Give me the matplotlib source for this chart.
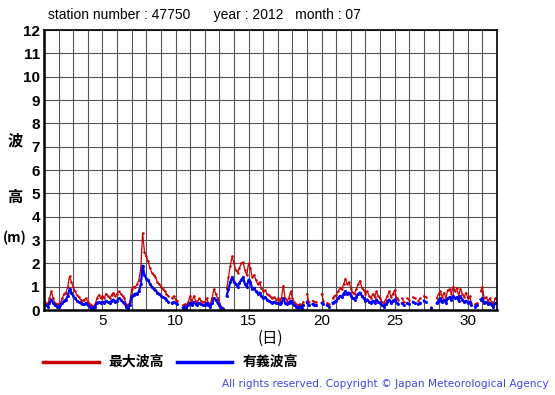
import numpy as np
import matplotlib
matplotlib.use('Agg')
import matplotlib.pyplot as plt

nan = np.nan

# 3-hourly values, 8 per day, days 1..31
hs = [
    0.25, 0.2, 0.15, 0.3, 0.45, 0.3, 0.2, 0.15,
    0.15, 0.2, 0.3, 0.4, 0.45, 0.6, 0.9, 0.75,
    0.6, 0.5, 0.4, 0.35, 0.3, 0.25, 0.25, 0.3,
    0.2, 0.15, 0.1, 0.1, 0.15, 0.3, 0.35, 0.3,
    0.35, 0.3, 0.4, 0.35, 0.3, 0.4, 0.45, 0.35,
    0.4, 0.5, 0.45, 0.35, 0.3, 0.15, 0.1, 0.2,
    0.6, 0.65, 0.7, 0.7, 0.8, 1.1, 1.9, 1.5,
    1.35, 1.3, 1.1, 1.0, 0.9, 0.85, 0.75, 0.7,
    0.6, 0.55, 0.5, 0.45, 0.35, nan, 0.3, 0.35,
    0.3, 0.25, nan, nan, 0.1, 0.15, 0.1, 0.2,
    0.3, 0.2, 0.35, 0.25, 0.2, 0.3, 0.25, 0.2,
    0.2, 0.3, 0.2, 0.15, 0.3, 0.5, 0.45, 0.3,
    0.2, 0.1, 0.05, nan, 0.6, 0.9, 1.2, 1.4,
    1.2, 1.1, 1.0, 1.15, 1.3, 1.4, 1.1, 1.0,
    1.3, 1.2, 0.9, 0.95, 0.8, 0.7, 0.75, 0.6,
    0.5, 0.55, 0.45, 0.4, 0.35, 0.3, 0.35, 0.3,
    0.3, 0.25, 0.3, 0.5, 0.3, 0.25, 0.3, 0.4,
    0.3, 0.2, 0.15, 0.1, 0.15, 0.1, 0.2, nan,
    0.35, 0.2, nan, 0.25, 0.2, 0.2, nan, nan,
    0.3, 0.25, nan, 0.2, 0.15, nan, 0.3, 0.35,
    0.4, 0.5, 0.6, 0.55, 0.7, 0.8, 0.7, 0.75,
    0.6, 0.5, 0.45, 0.55, 0.7, 0.75, 0.6, 0.5,
    0.4, 0.45, 0.35, 0.3, 0.4, 0.3, 0.45, 0.35,
    0.3, 0.2, 0.15, 0.25, 0.35, 0.45, 0.3, 0.4,
    0.45, 0.3, 0.25, nan, 0.3, 0.2, nan, 0.3,
    0.25, nan, 0.35, 0.3, nan, 0.25, 0.3, nan,
    0.4, 0.35, nan, nan, 0.1, nan, nan, 0.3,
    0.4, 0.5, 0.35, 0.45, 0.3, 0.5, 0.55, 0.45,
    0.6, 0.5, 0.55, 0.4, 0.6, 0.45, 0.35, 0.4,
    0.3, 0.35, 0.2, nan, 0.15, 0.2, nan, 0.45,
    0.5, 0.3, 0.35, 0.25, 0.3, 0.2, 0.15, 0.3,
]

hmax = [
    0.4, 0.3, 0.25, 0.5, 0.8, 0.5, 0.3, 0.25,
    0.25, 0.3, 0.5, 0.7, 0.75, 1.0, 1.45, 1.2,
    1.0, 0.8, 0.65, 0.55, 0.45, 0.4, 0.45, 0.5,
    0.35, 0.25, 0.2, 0.15, 0.25, 0.5, 0.65, 0.5,
    0.6, 0.5, 0.7, 0.6, 0.5, 0.65, 0.75, 0.6,
    0.7, 0.8, 0.7, 0.6, 0.5, 0.25, 0.2, 0.35,
    0.9, 1.0, 1.0, 1.1, 1.3, 1.8, 3.3, 2.5,
    2.3, 2.1, 1.8, 1.6, 1.5, 1.4, 1.2, 1.1,
    1.0, 0.9, 0.8, 0.7, 0.6, nan, 0.5, 0.6,
    0.45, 0.4, nan, nan, 0.2, 0.25, 0.2, 0.35,
    0.6, 0.35, 0.6, 0.4, 0.35, 0.5, 0.4, 0.35,
    0.35, 0.5, 0.3, 0.25, 0.5, 0.9, 0.7, 0.5,
    0.3, 0.15, 0.1, nan, 0.9, 1.4, 1.9, 2.3,
    2.0, 1.7, 1.6, 1.8, 2.0, 2.05, 1.7, 1.5,
    2.0, 1.8, 1.4, 1.5, 1.3, 1.1, 1.2, 0.95,
    0.8, 0.85, 0.7, 0.65, 0.55, 0.5, 0.55, 0.45,
    0.5, 0.4, 0.5, 1.05, 0.5, 0.4, 0.5, 0.8,
    0.5, 0.35, 0.25, 0.2, 0.25, 0.2, 0.35, nan,
    0.7, 0.35, nan, 0.4, 0.35, 0.35, nan, nan,
    0.7, 0.4, nan, 0.3, 0.25, nan, 0.5, 0.6,
    0.65, 0.8, 0.95, 0.9, 1.1, 1.35, 1.1, 1.2,
    0.9, 0.75, 0.7, 0.9, 1.1, 1.25, 0.95, 0.85,
    0.7, 0.8, 0.6, 0.5, 0.7, 0.55, 0.8, 0.6,
    0.5, 0.35, 0.3, 0.45, 0.6, 0.8, 0.55, 0.7,
    0.85, 0.5, 0.45, nan, 0.5, 0.35, nan, 0.5,
    0.45, nan, 0.55, 0.5, nan, 0.4, 0.5, nan,
    0.6, 0.55, nan, nan, 0.15, nan, nan, 0.5,
    0.7, 0.8, 0.55, 0.75, 0.5, 0.85, 0.9, 0.7,
    1.0, 0.8, 0.95, 0.6, 0.9, 0.7, 0.55, 0.75,
    0.5, 0.6, 0.3, nan, 0.25, 0.3, nan, 0.8,
    1.0, 0.5, 0.55, 0.4, 0.5, 0.35, 0.25, 0.5,
]

days = 1 + np.arange(len(hs)) / 8.0
xticks = [5, 10, 15, 20, 25, 30]
yticks = list(range(0, 13))

cjk = ['Noto Sans CJK JP', 'DejaVu Sans']
sans = 'Liberation Sans'

fig = plt.figure(figsize=(5.55, 3.95), dpi=100)
ax = fig.add_axes([44 / 555, 85 / 395, 453 / 555, 280 / 395])

# small markers so isolated readings between gaps still show
ax.plot(days, hmax, color='#cc0000', lw=0.9, marker='o', ms=0.8)
ax.plot(days, hs, color='#0000ff', lw=1.6, marker='o', ms=1.2)

ax.set_xlim(1, 32)
ax.set_ylim(0, 12)
ax.set_xticks(range(1, 33), minor=True)
ax.set_xticks(xticks)
ax.set_yticks(yticks)
ax.grid(True, which='both', color='#555555', lw=0.8)
ax.set_axisbelow(True)
ax.tick_params(axis='x', which='both', length=0, labelsize=11, pad=3)
ax.tick_params(axis='y', length=0, labelsize=11, pad=3)
for lab in ax.get_xticklabels():
    lab.set_family(sans)
for lab in ax.get_yticklabels():
    lab.set_family(sans)
    lab.set_fontweight('bold')
for s in ax.spines.values():
    s.set_color('black')
    s.set_linewidth(1.2)
ax.spines['left'].set_linewidth(1.8)
ax.spines['bottom'].set_linewidth(1.8)

fig.text(48 / 555, 1 - 15 / 395, 'station number : 47750      year : 2012   month : 07',
         family=sans, fontsize=10, va='center', ha='left')

fig.text(15 / 555, 1 - 140 / 395, '波', family=cjk, fontsize=11, fontweight='bold',
         ha='center', va='center')
fig.text(15 / 555, 1 - 197 / 395, '高', family=cjk, fontsize=11, fontweight='bold',
         ha='center', va='center')
fig.text(15 / 555, 1 - 238 / 395, '(m)', family=cjk, fontsize=10, fontweight='bold',
         ha='center', va='center')
fig.text(270 / 555, 1 - 338 / 395, '(日)', family=cjk, fontsize=11,
         ha='center', va='center')

fig.add_artist(plt.Line2D([43 / 555, 99 / 555], [1 - 362 / 395] * 2,
                          color='#cc0000', lw=2.5))
fig.text(108 / 555, 1 - 362 / 395, '最大波高', family=cjk, fontsize=10,
         fontweight='bold', va='center')
fig.add_artist(plt.Line2D([177 / 555, 232 / 555], [1 - 362 / 395] * 2,
                          color='#0000ff', lw=2.5))
fig.text(243 / 555, 1 - 362 / 395, '有義波高', family=cjk, fontsize=10,
         fontweight='bold', va='center')

fig.text(549 / 555, 1 - 384 / 395,
         'All rights reserved. Copyright \u00a9 Japan Meteorological Agency',
         color='#4444ee', fontsize=7.6, ha='right', va='center')

fig.savefig('out.png', dpi=100)
